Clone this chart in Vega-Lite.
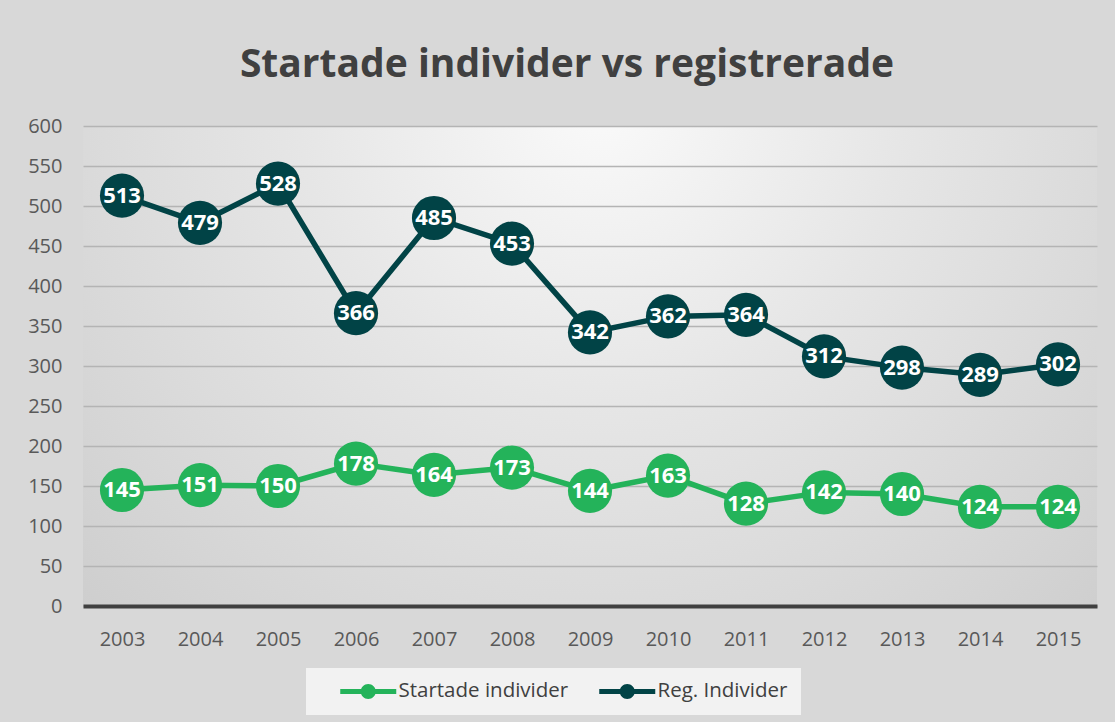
{
  "$schema": "https://vega.github.io/schema/vega-lite/v6.json",
  "width": 1014,
  "height": 480,
  "autosize": {"type": "none"},
  "padding": {"left": 83, "top": 126, "right": 18, "bottom": 116},
  "background": "#d8d8d8",
  "title": {
    "text": "Startade individer vs registrerade",
    "font": "Open Sans",
    "fontSize": 39,
    "fontWeight": "bold",
    "color": "#404040",
    "anchor": "middle",
    "frame": "group",
    "baseline": "alphabetic",
    "offset": 0,
    "dx": -23
  },
  "config": {
    "view": {
      "stroke": null,
      "fill": {
        "gradient": "radial",
        "x1": 0.51, "y1": 0.238, "r1": 0,
        "x2": 0.51, "y2": 0.238, "r2": 0.85,
        "stops": [
          {"offset": 0, "color": "#fafafa"},
          {"offset": 0.35, "color": "#e6e6e6"},
          {"offset": 0.7, "color": "#d5d5d5"},
          {"offset": 1, "color": "#c6c6c6"}
        ]
      }
    },
    "legend": {
      "orient": "none",
      "legendX": 223,
      "legendY": 542,
      "direction": "horizontal",
      "title": null,
      "fillColor": "#f2f2f2",
      "padding": 13,
      "symbolType": "M1.1,-0.25L6.7,-0.25L6.7,0.25L1.1,0.25Z M3.15,0A0.75,0.75 0 1,1 4.65,0A0.75,0.75 0 1,1 3.15,0Z",
      "symbolSize": 400,
      "symbolStrokeWidth": 0,
      "labelFont": "Open Sans",
      "labelFontSize": 20.5,
      "labelColor": "#404040",
      "labelOffset": 59,
      "labelLimit": 400,
      "columnPadding": 9
    }
  },
  "data": {
    "values": [
      {"year": "2003", "serie": "Reg. Individer", "value": 513},
      {"year": "2004", "serie": "Reg. Individer", "value": 479},
      {"year": "2005", "serie": "Reg. Individer", "value": 528},
      {"year": "2006", "serie": "Reg. Individer", "value": 366},
      {"year": "2007", "serie": "Reg. Individer", "value": 485},
      {"year": "2008", "serie": "Reg. Individer", "value": 453},
      {"year": "2009", "serie": "Reg. Individer", "value": 342},
      {"year": "2010", "serie": "Reg. Individer", "value": 362},
      {"year": "2011", "serie": "Reg. Individer", "value": 364},
      {"year": "2012", "serie": "Reg. Individer", "value": 312},
      {"year": "2013", "serie": "Reg. Individer", "value": 298},
      {"year": "2014", "serie": "Reg. Individer", "value": 289},
      {"year": "2015", "serie": "Reg. Individer", "value": 302},
      {"year": "2003", "serie": "Startade individer", "value": 145},
      {"year": "2004", "serie": "Startade individer", "value": 151},
      {"year": "2005", "serie": "Startade individer", "value": 150},
      {"year": "2006", "serie": "Startade individer", "value": 178},
      {"year": "2007", "serie": "Startade individer", "value": 164},
      {"year": "2008", "serie": "Startade individer", "value": 173},
      {"year": "2009", "serie": "Startade individer", "value": 144},
      {"year": "2010", "serie": "Startade individer", "value": 163},
      {"year": "2011", "serie": "Startade individer", "value": 128},
      {"year": "2012", "serie": "Startade individer", "value": 142},
      {"year": "2013", "serie": "Startade individer", "value": 140},
      {"year": "2014", "serie": "Startade individer", "value": 124},
      {"year": "2015", "serie": "Startade individer", "value": 124}
    ]
  },
  "encoding": {
    "x": {
      "field": "year",
      "type": "ordinal",
      "sort": null,
      "axis": {
        "title": null,
        "labelAngle": 0,
        "labelFont": "Open Sans",
        "labelFontSize": 20,
        "labelColor": "#595959",
        "labelPadding": 23,
        "ticks": false,
        "grid": false,
        "domainColor": "#404040",
        "domainWidth": 4
      }
    },
    "y": {
      "field": "value",
      "type": "quantitative",
      "scale": {"domain": [0, 600], "nice": false},
      "axis": {
        "title": null,
        "values": [0, 50, 100, 150, 200, 250, 300, 350, 400, 450, 500, 550, 600],
        "labelFont": "Open Sans",
        "labelFontSize": 20,
        "labelColor": "#595959",
        "labelPadding": 21,
        "ticks": false,
        "domain": false,
        "grid": true,
        "gridColor": "#b4b4b4",
        "gridWidth": 1.3
      }
    }
  },
  "layer": [
    {
      "mark": {"type": "line", "strokeWidth": 5.5},
      "encoding": {
        "color": {
          "field": "serie",
          "type": "nominal",
          "scale": {"domain": ["Startade individer", "Reg. Individer"], "range": ["#24B35A", "#014346"]},
          "legend": {
            "labelExpr": "datum.value == 'Reg. Individer' ? datum.label + '\u00a0\u00a0\u00a0\u00a0\u00a0\u00a0' : datum.label",
            "encode": {"symbols": {"update": {"fill": {"scale": "color", "field": "value"}, "opacity": {"value": 1}}}}
          }
        }
      }
    },
    {
      "mark": {"type": "circle", "size": 1950, "opacity": 1},
      "encoding": {
        "color": {
          "field": "serie",
          "type": "nominal",
          "scale": {"domain": ["Startade individer", "Reg. Individer"], "range": ["#24B35A", "#014346"]},
          "legend": {
            "labelExpr": "datum.value == 'Reg. Individer' ? datum.label + '\u00a0\u00a0\u00a0\u00a0\u00a0\u00a0' : datum.label",
            "encode": {"symbols": {"update": {"fill": {"scale": "color", "field": "value"}, "opacity": {"value": 1}}}}
          }
        }
      }
    },
    {
      "mark": {"type": "text", "font": "Open Sans", "fontWeight": "bold", "fontSize": 22, "fill": "#ffffff", "align": "center", "baseline": "middle"},
      "encoding": {"text": {"field": "value", "type": "quantitative"}}
    }
  ]
}
